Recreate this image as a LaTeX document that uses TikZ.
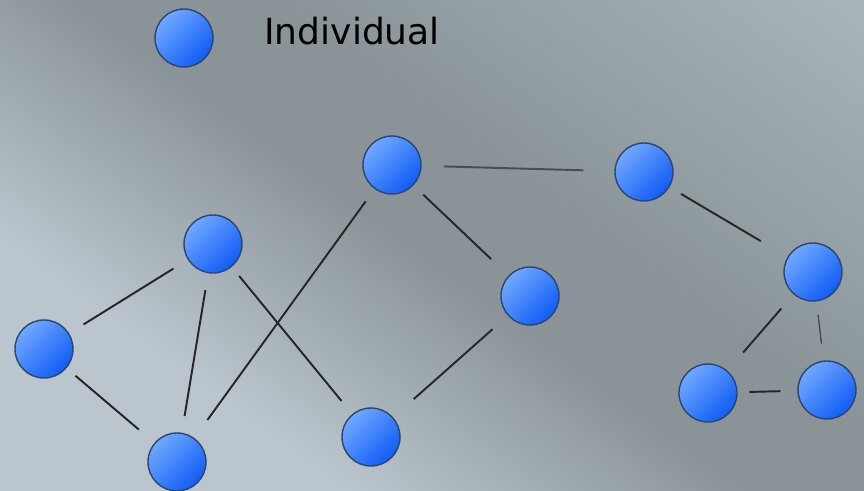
\documentclass[tikz,border=0pt]{standalone}
\usepackage{fontspec}
\setmainfont{DejaVu Sans}
\usepackage{xcolor}
\usepackage{tikz}
\definecolor{ball-light}{RGB}{112,168,255}
\definecolor{ball-dark}{RGB}{16,92,245}
\definecolor{ball-rim}{RGB}{44,70,112}
\definecolor{bg-light}{RGB}{186,197,205}
\definecolor{bg-dark}{RGB}{138,148,152}
\definecolor{bg-top}{RGB}{168,180,186}
\pgfdeclareverticalshading{backdrop}{100bp}{color(0bp)=(bg-light); color(31bp)=(bg-light); color(49bp)=(bg-dark); color(58bp)=(bg-dark); color(84bp)=(bg-top); color(100bp)=(bg-top)}
\tikzstyle{p}=[circle,draw=ball-rim,line width=0.8pt,top color=ball-light,bottom color=ball-dark,shading angle=45,minimum size=1.16cm,inner sep=0pt,outer sep=0pt]
\tikzstyle{tie}=[black!85,line width=1.1pt,shorten >=10pt,shorten <=10pt]

\begin{document}
\begin{tikzpicture}

% Background
\useasboundingbox (0,0) rectangle (17.28,-9.82);
\shade[shading=backdrop,shading angle=-36] (0,0) rectangle (17.28,-9.82);

% Legend
\node[p] (key)        at (3.68,-0.76) {};
\node[anchor=base west,inner sep=0pt,font=\fontsize{20.5}{24}\selectfont] (key text) at (5.28,-0.90) {Individual};

% Nodes
\node[p] (left top)    at (4.26,-4.88)  {};
\node[p] (left side)   at (0.88,-6.98)  {};
\node[p] (left bottom) at (3.54,-9.24)  {};
\node[p] (hub)         at (7.84,-3.30)  {};
\node[p] (mid right)   at (10.60,-5.92) {};
\node[p] (mid bottom)  at (7.42,-8.74)  {};
\node[p] (right top)   at (12.88,-3.44) {};
\node[p] (right mid)   at (16.26,-5.44) {};
\node[p] (low left)    at (14.16,-7.86) {};
\node[p] (low right)   at (16.54,-7.80) {};

% Edges
\draw[tie] (left top)  edge (left side)
           (left top)  edge (left bottom)
           (left top)  edge[shorten <=7pt] (mid bottom)
           (hub)       edge[shorten <=9pt,shorten >=13pt] (left bottom)
           (hub)       edge[shorten <=8pt,shorten >=14pt] (mid right)
           (mid right) edge[shorten <=12pt,shorten >=16pt] (mid bottom)
           (hub)       edge[shorten <=13pt,shorten >=18pt,black!70] (right top)
           (right top) edge[shorten <=8pt,shorten >=18pt] (right mid)
           (right mid) edge[shorten <=11pt,shorten >=14pt] (low left)
           (right mid) edge[shorten <=8pt,line width=0.8pt,black!70] (low right)
           (low left)  edge[shorten <=7pt] (low right)
           (left side) edge[shorten <=7pt,shorten >=12pt] (left bottom);

\end{tikzpicture}
\end{document}
